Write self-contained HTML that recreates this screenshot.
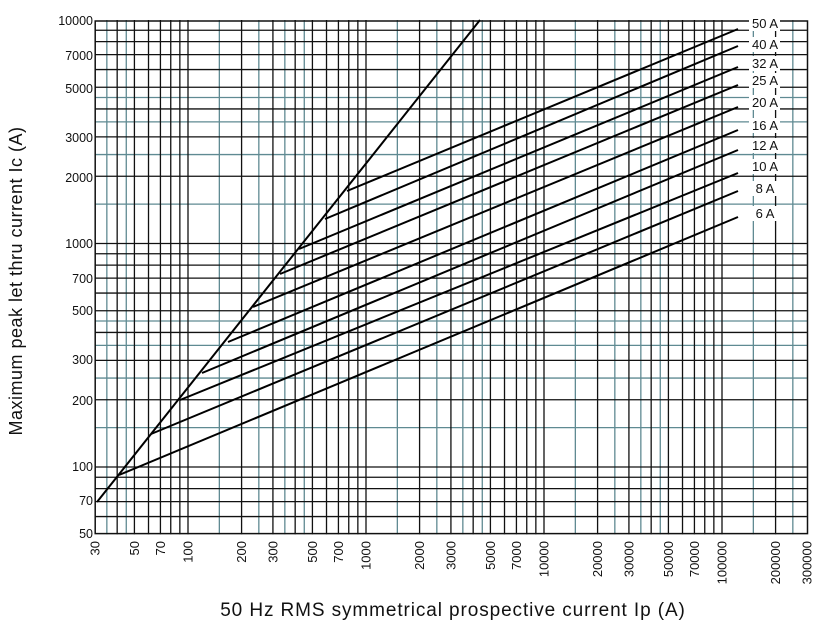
<!DOCTYPE html>
<html><head><style>body{margin:0;background:#fff}svg{display:block}</style></head><body>
<svg width="825" height="636" xmlns="http://www.w3.org/2000/svg" font-family="Liberation Sans, DejaVu Sans, sans-serif">
<g id="grid"></g>
<script>
(function(){
var ns="http://www.w3.org/2000/svg",g=document.getElementById("grid");
function X(v){return 188+178*Math.log10(v/100);}
function Y(v){return 467-223.5*Math.log10(v/100);}
function ln(x1,y1,x2,y2,c,w){var l=document.createElementNS(ns,"line");l.setAttribute("x1",x1);l.setAttribute("y1",y1);l.setAttribute("x2",x2);l.setAttribute("y2",y2);l.setAttribute("stroke",c);l.setAttribute("stroke-width",w);g.appendChild(l);}
var x0=X(30),x1=X(300000),y0=Y(10000),y1=Y(50);
var teal="#5f8a92",blk="#111";
var tx=[35,45,150,250,350,450,1500,2500,3500,4500,15000,25000,35000,45000,150000,250000];
tx.forEach(function(v){ln(X(v),y0,X(v),y1,teal,1.3);});
var ty=[150,250,350,450,1500,2500,3500,4500];
ty.forEach(function(v){ln(x0,Y(v),x1,Y(v),teal,1.3);});
var bx=[40,50,60,70,80,90];
[100,1000,10000].forEach(function(d){for(var i=1;i<=9;i++)bx.push(d*i);});
bx.push(100000,200000);
bx.forEach(function(v){ln(X(v),y0,X(v),y1,blk,1.3);});
var by=[60,70,80,90];
[100,1000].forEach(function(d){for(var i=1;i<=9;i++)by.push(d*i);});
by.forEach(function(v){ln(x0,Y(v),x1,Y(v),blk,1.3);});
})();
</script>
<rect x="95.2" y="21" width="712.3" height="512.6" fill="none" stroke="#111" stroke-width="1.5"/>
<g stroke="#000" stroke-width="2" fill="none">
<line x1="97" y1="502" x2="480" y2="20"/>
<line x1="347" y1="191" x2="738" y2="29"/>
<line x1="325" y1="219" x2="738" y2="46"/>
<line x1="299" y1="249" x2="738" y2="67"/>
<line x1="280" y1="274" x2="738" y2="85"/>
<line x1="253" y1="307" x2="738" y2="107"/>
<line x1="228" y1="342" x2="738" y2="130"/>
<line x1="202" y1="373" x2="738" y2="150"/>
<line x1="180" y1="400" x2="738" y2="173"/>
<line x1="151" y1="434" x2="738" y2="191"/>
<line x1="119" y1="475" x2="738" y2="217"/>
</g>
<g font-size="13" fill="#111" text-anchor="middle">
<g fill="#fff"><rect x="749" y="16" width="31" height="15"/><rect x="749" y="37" width="31" height="15"/><rect x="749" y="56" width="31" height="15"/><rect x="749" y="73" width="31" height="15"/><rect x="749" y="95" width="31" height="15"/><rect x="749" y="118" width="31" height="15"/><rect x="749" y="138" width="31" height="15"/><rect x="749" y="159" width="31" height="15"/><rect x="749" y="181" width="31" height="15"/><rect x="749" y="206" width="31" height="15"/></g>
<text x="765" y="28">50 A</text><text x="765" y="49">40 A</text><text x="765" y="68">32 A</text><text x="765" y="85">25 A</text><text x="765" y="107">20 A</text><text x="765" y="130">16 A</text><text x="765" y="150">12 A</text><text x="765" y="171">10 A</text><text x="765" y="193">8 A</text><text x="765" y="218">6 A</text>
</g>
<g font-size="12.5" fill="#111" text-anchor="end">
<text x="93" y="25">10000</text><text x="93" y="60">7000</text><text x="93" y="93">5000</text><text x="93" y="142">3000</text><text x="93" y="182">2000</text><text x="93" y="248">1000</text><text x="93" y="283">700</text><text x="93" y="315">500</text><text x="93" y="364">300</text><text x="93" y="405">200</text><text x="93" y="471">100</text><text x="93" y="505">70</text><text x="93" y="538">50</text>
</g>
<g font-size="13" fill="#111" text-anchor="end" id="xt"></g>
<script>
(function(){var ns="http://www.w3.org/2000/svg",g=document.getElementById("xt");
[30,50,70,100,200,300,500,700,1000,2000,3000,5000,7000,10000,20000,30000,50000,70000,100000,200000,300000].forEach(function(v){
var x=188+178*Math.log10(v/100)+4.5;var t=document.createElementNS(ns,"text");t.setAttribute("transform","translate("+x+",541) rotate(-90)");t.setAttribute("x",0);t.setAttribute("y",0);t.textContent=v;g.appendChild(t);});})();
</script>
<text x="453" y="616" font-size="19" letter-spacing="0.9" text-anchor="middle" fill="#111">50 Hz RMS symmetrical prospective current Ip (A)</text>
<text transform="translate(22,281) rotate(-90)" font-size="18" letter-spacing="0.5" text-anchor="middle" fill="#111">Maximum peak let thru current Ic (A)</text>
</svg>
</body></html>
